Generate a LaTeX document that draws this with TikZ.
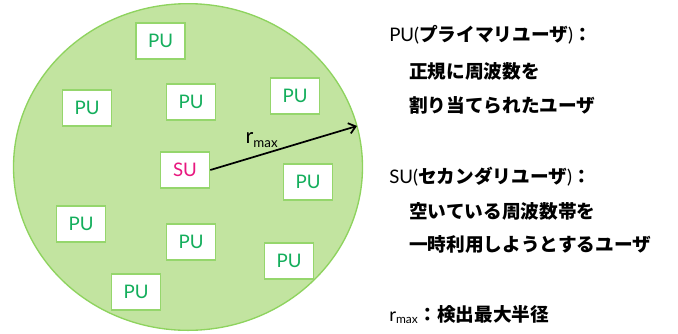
\documentclass[tikz,border=0pt]{standalone}
\usepackage{fontspec}
\setmainfont{Lato}
\newfontfamily\jp{Noto Sans CJK JP}
\usetikzlibrary{arrows.meta,shapes.geometric}
\definecolor{areafill}{HTML}{C2E4A0}
\definecolor{areadraw}{HTML}{8ED35E}
\definecolor{boxdraw}{HTML}{95D66C}
\definecolor{pugreen}{HTML}{14AE5C}
\definecolor{supink}{HTML}{E8177F}
\tikzset{
  ubox/.style={draw=boxdraw, line width=1.2pt, fill=white, minimum width=36.75pt, minimum height=27pt, inner sep=0pt, font=\fontsize{14}{15}\selectfont},
  pubox/.style={ubox, text=pugreen},
  subox/.style={ubox, text=supink},
  desc/.style={anchor=base west, inner sep=0pt, font=\fontsize{14}{16}\selectfont},
}
\begin{document}
\begin{tikzpicture}[x=0.75pt, y=-0.75pt]
\useasboundingbox (0,0) rectangle (678,333);
\node[ellipse, draw=areadraw, fill=areafill, line width=1pt, minimum width=261.75pt, minimum height=245pt, inner sep=0pt] (area) at (188,167) {};
\node[pubox] (p1) at (160.5,41) {PU};
\node[pubox] (p2) at (87,108) {PU};
\node[pubox] (p3) at (191,102) {PU};
\node[pubox] (p4) at (295,96) {PU};
\node[subox] (su) at (185,170) {SU};
\node[pubox] (p6) at (308,182) {PU};
\node[pubox] (p7) at (81,224) {PU};
\node[pubox] (p8) at (191,242) {PU};
\node[pubox] (p9) at (289,261) {PU};
\node[pubox] (p10) at (136,292) {PU};
\coordinate (edge) at (357,126);
\draw[line width=1.3pt, -{Straight Barb[length=5pt,width=8pt]}] (su.east) -- (edge);
\node[inner sep=0pt, font=\fontsize{16}{18}\selectfont] (rl) at (262,140) {r\textsubscript{\fontsize{10}{11}\selectfont max}};
\node[desc] (t1) at (389,41) {PU({\jp\bfseries プライマリユーザ}){\jp\bfseries ：}};
\node[desc] (t2) at (409,78) {\jp\bfseries 正規に周波数を};
\node[desc] (t3) at (409,112) {\jp\bfseries 割り当てられたユーザ};
\node[desc] (t4) at (389,183) {SU({\jp\bfseries セカンダリユーザ}){\jp\bfseries ：}};
\node[desc] (t5) at (409,218) {\jp\bfseries 空いている周波数帯を};
\node[desc] (t6) at (409,251) {\jp\bfseries 一時利用しようとするユーザ};
\node[desc] (t7) at (389,321) {r\textsubscript{\fontsize{9}{10}\selectfont max}{\jp\bfseries ：検出最大半径}};
\end{tikzpicture}
\end{document}
